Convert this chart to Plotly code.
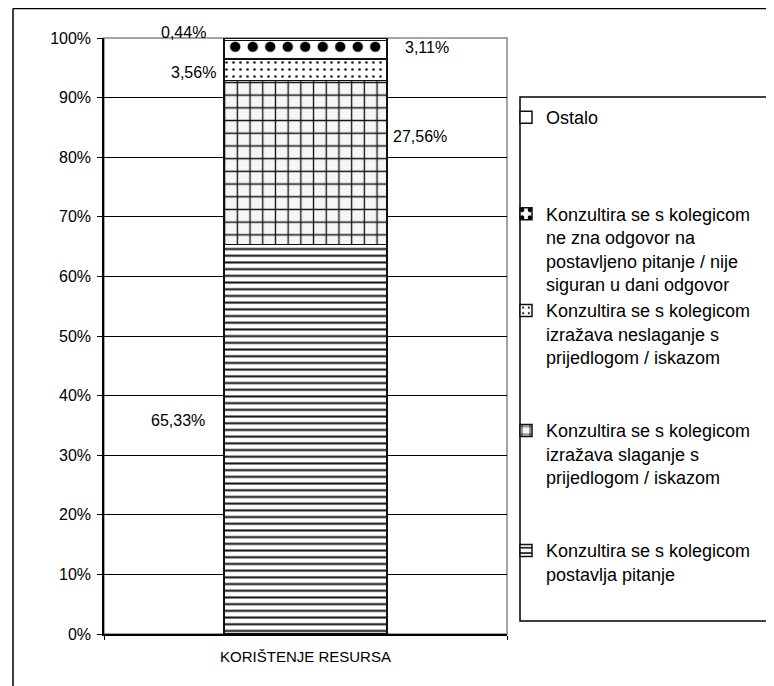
import plotly.graph_objects as go

category = ["KORIŠTENJE RESURSA"]
series_names = [
    "Konzultira se s kolegicom<br>postavlja pitanje",
    "Konzultira se s kolegicom<br>izražava slaganje s<br>prijedlogom / iskazom",
    "Konzultira se s kolegicom<br>izražava neslaganje s<br>prijedlogom / iskazom",
    "Konzultira se s kolegicom<br>ne zna odgovor na<br>postavljeno pitanje / nije<br>siguran u dani odgovor",
    "Ostalo",
]
values = [65.33, 27.56, 3.56, 3.11, 0.44]
value_labels = ["65,33%", "27,56%", "3,56%", "3,11%", "0,44%"]
y_ticks = [0, 10, 20, 30, 40, 50, 60, 70, 80, 90, 100]
y_tick_labels = [f"{v}%" for v in y_ticks]

# ---- styling / layout (screen pixels; page body adds an 8px offset) ----
FONT = "Liberation Sans, Arial, sans-serif"
OFF = 8
W, H = 774, 686
SL, SR, ST, SB = 104, 507, 38, 634          # plot area on screen
L, R, T, B = SL - OFF, SR - OFF, ST - OFF, SB - OFF
patterns = [
    dict(shape="-", size=6.7, solidity=0.3, fgcolor="#111", fgopacity=1, bgcolor="white"),
    dict(shape="+", size=12.7, solidity=0.2, fgcolor="#111", fgopacity=1, bgcolor="#f6f6f6"),
    dict(shape=".", size=7, solidity=0.12, fgcolor="#222", fgopacity=1, bgcolor="white"),
    dict(shape=".", size=17.5, solidity=0.28, fgcolor="black", fgopacity=1, bgcolor="white"),
    dict(shape="", bgcolor="white"),
]
blank_after = [0, 2, 2, 0, 3]
label_screen = [(178, 420), (420, 137), (193, 72), (427, 48), (183, 33)]

fig = go.Figure()
for i, (name, v) in enumerate(zip(series_names, values)):
    pad = "".join("<br>\u00a0" for _ in range(blank_after[i]))
    fig.add_trace(go.Bar(
        x=category, y=[v], name=name + pad, width=0.405,
        marker=dict(color="white", line=dict(color="#111", width=1.5),
                    pattern=patterns[i]),
    ))

pw = R - L
ph = B - T
def px(sx):
    return (sx - SL) / pw
def py(sy):
    return (SB - sy) / ph

cum = 0
for i, v in enumerate(values):
    mid = cum + v / 2
    cum += v
    sx, sy = label_screen[i]
    mid_screen = SB - mid / 100 * ph
    fig.add_annotation(x=px(sx), xref="paper", xanchor="center",
                       y=mid, yref="y", yanchor="middle",
                       yshift=mid_screen - sy,
                       text=value_labels[i], showarrow=False,
                       font=dict(family=FONT, size=16, color="black"))

shapes = [
    dict(type="rect", xref="paper", yref="paper", x0=0, x1=1, y0=0, y1=1,
         line=dict(color="#888", width=1.5), layer="below"),
    dict(type="rect", xref="paper", yref="paper", x0=px(520), x1=px(800),
         y0=py(621), y1=py(97), line=dict(color="black", width=1.5),
         fillcolor="white", layer="below"),
    dict(type="line", xref="paper", yref="paper", x0=px(13), x1=px(13),
         y0=py(8.5), y1=py(720), line=dict(color="black", width=1.5)),
    dict(type="line", xref="paper", yref="paper", x0=px(13), x1=px(800),
         y0=py(8.5), y1=py(8.5), line=dict(color="black", width=1.5)),
]

fig.update_layout(
    width=W, height=H,
    margin=dict(l=L, r=W - R, t=T, b=H - B, autoexpand=False),
    barmode="stack",
    paper_bgcolor="white", plot_bgcolor="white",
    font=dict(family=FONT, size=15, color="black"),
    showlegend=True,
    legend=dict(x=px(506), xanchor="left", y=py(99), yanchor="top",
                traceorder="reversed", valign="top",
                font=dict(family=FONT, size=18, color="black"),
                bgcolor="rgba(0,0,0,0)", borderwidth=0),
    shapes=shapes,
)
fig.update_yaxes(range=[0, 100], tickvals=y_ticks, ticktext=y_tick_labels,
                 showgrid=True, gridcolor="black", gridwidth=1,
                 showline=True, linecolor="black", linewidth=1.5,
                 ticks="outside", ticklen=5, tickcolor="black",
                 ticklabelstandoff=3,
                 tickfont=dict(size=16), zeroline=False, fixedrange=True)
fig.update_xaxes(showline=True, linecolor="black", linewidth=1.5,
                 ticks="outside", tickson="boundaries", ticklen=4,
                 tickcolor="black", ticklabelstandoff=8,
                 tickfont=dict(size=15), fixedrange=True)

fig.write_html("out.html")
